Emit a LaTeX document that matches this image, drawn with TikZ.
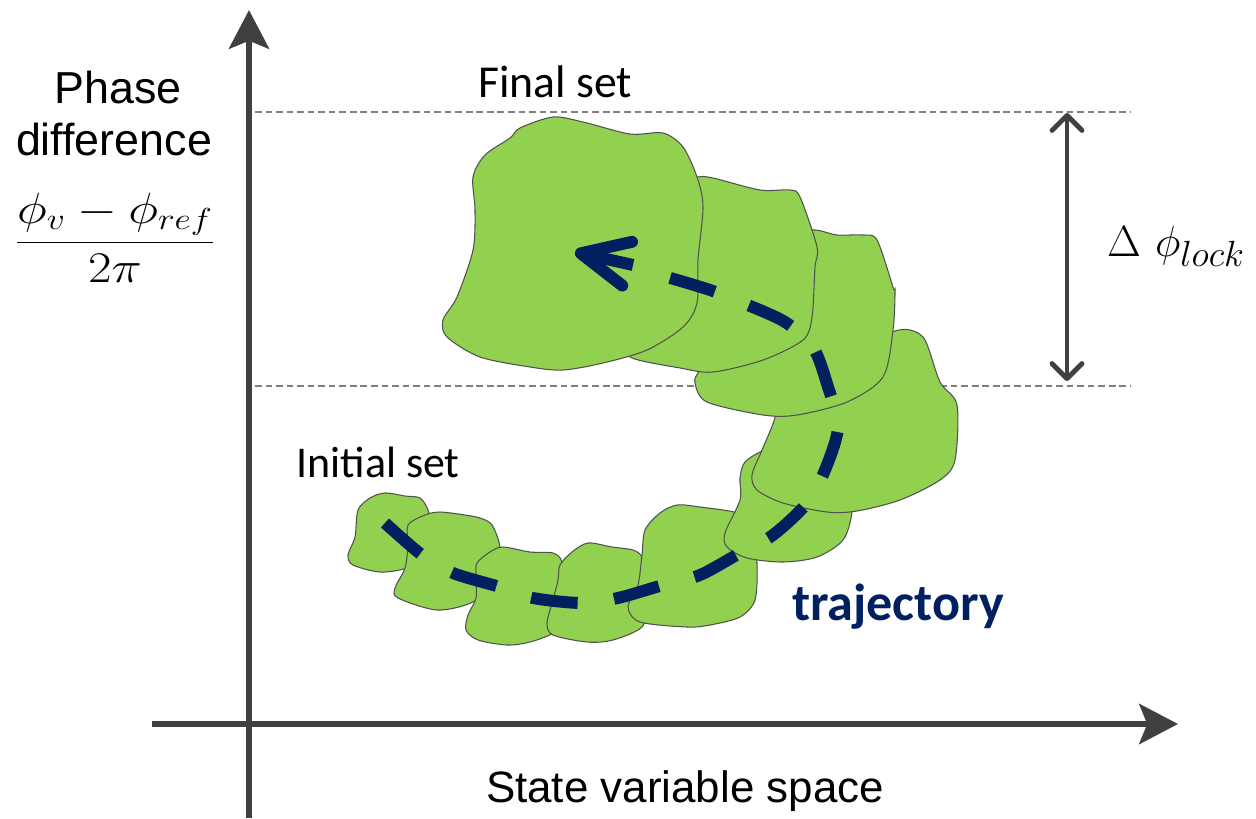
\documentclass[tikz,border=0pt]{standalone}
\usepackage{fontspec}
\setmainfont{Liberation Sans}
\newfontfamily\calibri{Carlito}
\usetikzlibrary{arrows.meta}
\definecolor{blobgreen}{HTML}{92D050}
\definecolor{blobline}{HTML}{505050}
\definecolor{navy}{HTML}{002060}
\definecolor{axisgray}{HTML}{404040}
\definecolor{guidegray}{HTML}{808080}
\tikzset{
  blob/.style={fill=blobgreen, draw=blobline, line width=0.6pt},
  axisline/.style={draw=axisgray, line width=3.8pt, -{Stealth[length=22pt, width=22.7pt, inset=4.5pt]}},
  guide/.style={draw=guidegray, line width=0.75pt, dash pattern=on 3.8pt off 2.2pt},
  lockarrow/.style={draw=axisgray, line width=2.8pt, {Straight Barb[length=8.5pt, width=17pt, round]}-{Straight Barb[length=8.5pt, width=17pt, round]}},
  trajdash/.style={draw=navy, line width=6.8pt, dash pattern=on 26.6pt off 20.9pt},
  trajhead/.style={draw=navy, line width=6.8pt, -{Straight Barb[length=27pt, width=25.5pt, round]}},
  arial/.style={font=\fontsize{25.5}{30}\selectfont, text=black, inner sep=0pt},
  calib/.style={font=\calibri\fontsize{26}{30}\selectfont, text=black, inner sep=0pt},
  mathlbl/.style={font=\fontsize{26}{30}\selectfont, text=black, inner sep=0pt},
}
\begin{document}
\begin{tikzpicture}[x=0.02cm, y=-0.02cm]
\useasboundingbox (0,0) rectangle (1256,818);

% guide lines
\coordinate (gtl) at (255,112);
\coordinate (gtr) at (1130,112);
\coordinate (gbl) at (255,386);
\coordinate (gbr) at (1130,386);
\draw[guide] (gtl) -- (gtr);
\draw[guide] (gbl) -- (gbr);

% axes
\coordinate (ybot) at (249,818);
\coordinate (ytop) at (249,10);
\coordinate (xleft) at (152,724);
\coordinate (xright) at (1178,724);
\draw[axisline] (ybot) -- (ytop);
\draw[axisline] (xleft) -- (xright);

% lock range arrow
\coordinate (lt) at (1067,113);
\coordinate (lb) at (1067,381);
\draw[lockarrow] (lt) -- (lb);

% blobs (back to front)
\draw[blob] plot[smooth cycle, tension=0.5] coordinates {(358,510) (370,498) (385,493) (405,496) (420,498) (428,510) (432,530) (428,555) (407,568) (380,572) (353,565) (348,555) (355,537)};
\draw[blob] plot[smooth cycle, tension=0.5] coordinates {(408,525) (425,515) (440,512) (465,515) (480,518) (492,525) (500,548) (497,580) (473,602) (437,610) (398,598) (395,588) (405,568) (408,545)};
\draw[blob] plot[smooth cycle, tension=0.5] coordinates {(477,563) (490,552) (503,547) (530,552) (553,553) (562,562) (565,590) (560,620) (553,633) (530,642) (507,645) (478,640) (466,630) (468,615) (476,598) (476,575)};
\draw[blob] plot[smooth cycle, tension=0.5] coordinates {(560,565) (572,552) (588,543) (612,547) (633,550) (642,557) (645,575) (645,605) (642,627) (613,640) (587,642) (553,635) (547,623) (553,600) (558,580)};
\draw[blob] plot[smooth cycle, tension=0.5] coordinates {(645,530) (660,513) (677,505) (700,507) (738,513) (752,525) (757,563) (755,600) (740,617) (710,625) (687,627) (640,622) (628,607) (638,585) (642,555)};
\draw[blob] plot[smooth cycle, tension=0.5] coordinates {(745,462) (765,450) (790,448) (830,455) (850,480) (852,512) (843,540) (817,557) (783,562) (747,558) (727,547) (725,533) (740,500) (740,478)};
\draw[blob] plot[smooth cycle, tension=0.5] coordinates {(770,400) (800,380) (860,350) (892,332) (910,330) (925,340) (940,382) (957,405) (955,460) (940,480) (900,500) (857,511) (827,512) (783,503) (757,490) (752,475) (762,450) (775,417)};
\draw[blob] plot[smooth cycle, tension=0.5] coordinates {(700,370) (730,330) (790,240) (813,230) (837,235) (863,235) (877,240) (893,287) (895,292) (893,330) (883,377) (847,402) (797,415) (763,415) (707,402) (695,383)};
\draw[blob] plot[smooth cycle, tension=0.5] coordinates {(640,340) (650,250) (680,185) (697,177) (713,178) (760,190) (790,190) (800,197) (817,247) (815,267) (812,317) (803,340) (763,360) (713,372) (680,368) (630,357)};
\draw[blob] plot[smooth cycle, tension=0.5] coordinates {(510,138) (520,128) (553,117) (583,122) (630,134) (663,133) (683,147) (697,177) (703,207) (698,260) (697,303) (683,327) (647,350) (603,363) (563,370) (530,367) (480,357) (447,337) (443,320) (457,297) (473,250) (475,210) (473,177) (485,155)};

% trajectory
\coordinate (ts) at (385,523);
\coordinate (tshaft) at (633,265);
\coordinate (ttip) at (575,252);
\draw[trajdash] plot[smooth, tension=0.5] coordinates {(ts) (422,555) (453,573) (500,587) (533,598) (582,603) (618,598) (663,585) (700,575) (740,553) (773,535) (807,503) (825,470) (838,427) (828,387) (813,347) (785,322) (743,303) (710,290) (667,277)};
\draw[trajhead] (tshaft) -- (ttip);

% labels
\node[arial, anchor=base] (phase) at (118,103) {Phase};
\node[arial, anchor=base] (diff) at (114,155) {difference};
\node[mathlbl, anchor=base] (frac) at (115,253) {\scalebox{1.17}[1]{$\displaystyle\frac{\phi_v-\phi_{ref}}{2\pi}$}};
\node[calib, anchor=base] (final) at (555,97) {Final set};
\node[calib, anchor=base, font=\calibri\fontsize{25}{30}\selectfont] (initial) at (378,477) {Initial set};
\node[inner sep=0pt, anchor=base, text=navy, font=\calibri\bfseries\fontsize{29.7}{34}\selectfont] (traj) at (898,620) {trajectory};
\node[arial, anchor=base, font=\fontsize{25}{30}\selectfont] (xlabel) at (685,802) {State variable space};
\node[mathlbl, anchor=base, font=\fontsize{29}{33}\selectfont] (dlock) at (1176,256) {$\Delta\ \phi_{lock}$};
\end{tikzpicture}
\end{document}
